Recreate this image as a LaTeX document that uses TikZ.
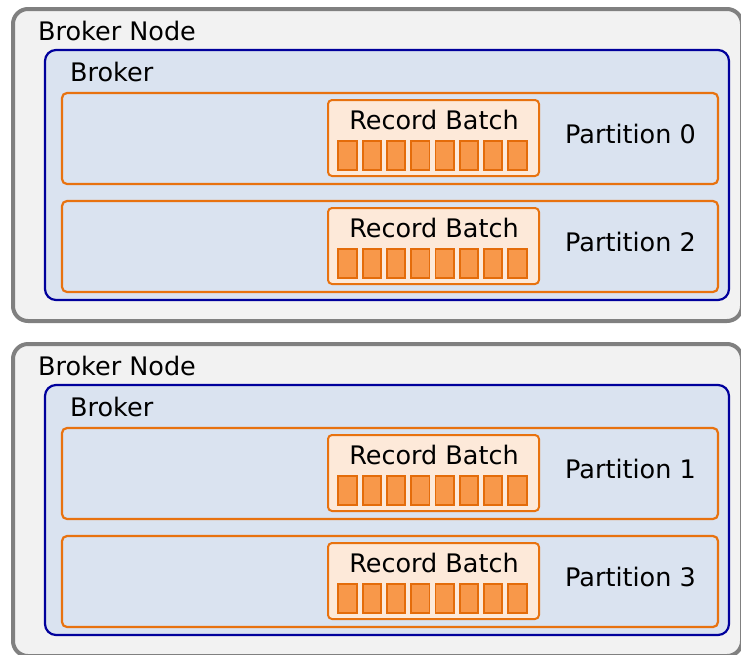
\documentclass[tikz,border=0pt]{standalone}
\usepackage{fontspec}
\setmainfont{DejaVu Sans}
\definecolor{nodefill}{HTML}{F2F2F2}
\definecolor{nodeline}{HTML}{808080}
\definecolor{brokerfill}{HTML}{DAE3F0}
\definecolor{brokerline}{HTML}{00009C}
\definecolor{partline}{HTML}{E8720F}
\definecolor{batchfill}{HTML}{FDE9D9}
\definecolor{cellfill}{HTML}{F8984A}
\definecolor{cellline}{HTML}{E46C0A}
\tikzset{
  x=1pt, y=-1pt,
  nodebox/.style={draw=nodeline, fill=nodefill, line width=4pt, rounded corners=15pt},
  brokerbox/.style={draw=brokerline, fill=brokerfill, line width=2.2pt, rounded corners=11pt},
  partbox/.style={draw=partline, fill=brokerfill, line width=2.2pt, rounded corners=5pt},
  batchbox/.style={draw=partline, fill=batchfill, line width=2pt, rounded corners=4pt},
  cellbox/.style={draw=cellline, fill=cellfill, line width=1.9pt},
  lbl/.style={inner sep=0pt, font=\fontsize{25.5}{30}\selectfont, text=black},
}
\begin{document}
\begin{tikzpicture}
\useasboundingbox (0,0) rectangle (741,654);
\foreach \o/\pa/\pb [count=\i] in {0/0/2, 335/1/3} {
  \draw[nodebox] (13,9+\o) rectangle (742,321+\o);
  \node[lbl, anchor=base west] (bn\i) at (38,40.7+\o) {Broker Node};
  \draw[brokerbox] (45,50+\o) rectangle (729,300+\o);
  \node[lbl, anchor=base west] (br\i) at (70,81.7+\o) {Broker};
  \foreach \t/\p [count=\j] in {93/\pa, 201/\pb} {
    \draw[partbox] (62,\t+\o) rectangle (718,\t+91+\o);
    \draw[batchbox] (328,\t+7+\o) rectangle (539,\t+83+\o);
    \node[lbl, anchor=base] (rb\i\j) at (434,\t+36.3+\o) {Record Batch};
    \foreach \k in {0,...,7} {
      \draw[cellbox] (338.3+24.29*\k,\t+48+\o) rectangle (356.6+24.29*\k,\t+77+\o);
    }
    \node[lbl, anchor=base west] (pt\i\j) at (565,\t+50+\o) {Partition \p};
  }
}
\end{tikzpicture}
\end{document}
